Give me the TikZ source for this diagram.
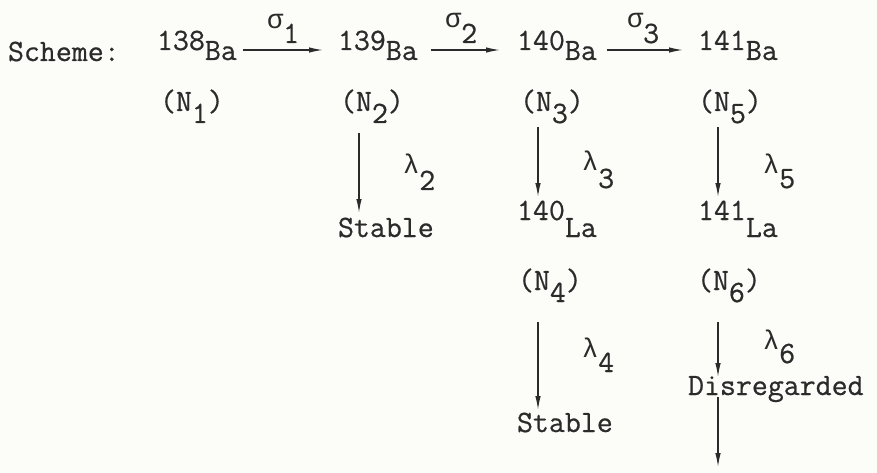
\documentclass[tikz,border=0pt]{standalone}
\usepackage{fontspec}
\newfontfamily\grk{Liberation Mono}
\newfontfamily\twf[FakeBold=0.6]{Latin Modern Mono}
\usetikzlibrary{arrows.meta}
\definecolor{ink}{HTML}{2B2B2B}
\definecolor{paper}{HTML}{FCFCF8}
\newcommand{\tw}{\twf\fontsize{31}{36}\selectfont}
\newcommand{\lo}[2]{\raisebox{-#1pt}{#2}}
\newcommand{\gk}[1]{{\grk\fontsize{27}{30}\selectfont #1}}
\begin{document}
\begin{tikzpicture}[x=1pt,y=-1pt,
  lbl/.style={anchor=base west, inner sep=0pt, outer sep=0pt, text=ink, font=\tw},
  arr/.style={draw=ink, line width=1.3pt, -{Latex[length=14pt,width=5.5pt]}},
]
\fill[paper] (0,0) rectangle (877,473);
\useasboundingbox (0,0) rectangle (877,473);

% top row
\node[lbl] (scheme) at (8,61) {Scheme:};
\node[lbl] (ba138) at (157,50) {138\lo{10}{Ba}};
\node[lbl] (ba139) at (338,50) {139\lo{10}{Ba}};
\node[lbl] (ba140) at (517,50) {140\lo{10}{Ba}};
\node[lbl] (ba141) at (698,50) {141\lo{10}{Ba}};

\node[lbl] (s1) at (267,29) {\gk{σ}\lo{14}{1}};
\node[lbl] (s2) at (445,28) {\gk{σ}\lo{15}{2}};
\node[lbl] (s3) at (627,28) {\gk{σ}\lo{15}{3}};

\draw[arr] ([xshift=6pt]ba138.base east) -- ([xshift=-15pt]ba139.base west);
\draw[arr] ([xshift=13pt]ba139.base east) -- ([xshift=-17pt]ba140.base west);
\draw[arr] ([xshift=10pt]ba140.base east) -- ([xshift=-15pt]ba141.base west);

% N row
\node[lbl] (n1) at (160,111) {(N\lo{12}{1})};
\node[lbl] (n2) at (340,111) {(N\lo{12}{2})};
\node[lbl] (n3) at (520,111) {(N\lo{12}{3})};
\node[lbl] (n5) at (698,111) {(N\lo{12}{5})};

% decay products
\node[lbl] (st2) at (338,237) {Stable};
\node[lbl] (la140) at (517,220) {140\lo{17}{La}};
\node[lbl] (la141) at (698,220) {141\lo{17}{La}};
\node[lbl] (n4) at (518,290) {(N\lo{12}{4})};
\node[lbl] (n6) at (697,290) {(N\lo{12}{6})};
\node[lbl] (st4) at (517,432) {Stable};
\node[lbl] (dis) at (688,395) {Disregarded};
\coordinate (end6) at (718,467);

% lambda labels
\node[lbl] (l2) at (403,174) {\gk{λ}\lo{16}{2}};
\node[lbl] (l3) at (582,171) {\gk{λ}\lo{17}{3}};
\node[lbl] (l5) at (763,173) {\gk{λ}\lo{15}{5}};
\node[lbl] (l4) at (582,357) {\gk{λ}\lo{15}{4}};
\node[lbl] (l6) at (763,349) {\gk{λ}\lo{14}{6}};

% vertical arrows
\draw[arr] ([shift={(19,22)}]n2.base west) -- ([shift={(21,-24)}]st2.base west);
\draw[arr] ([shift={(18,16)}]n3.base west) -- ([shift={(21,-23)}]la140.base west);
\draw[arr] ([shift={(20,16)}]n5.base west) -- ([shift={(20,-23)}]la141.base west);
\draw[arr] ([shift={(20,32)}]n4.base west) -- ([shift={(21,-22)}]st4.base west);
\draw[arr] ([shift={(21,32)}]n6.base west) -- ([shift={(30,-18)}]dis.base west);
\draw[arr] ([shift={(30,2)}]dis.base west) -- (end6);
\end{tikzpicture}
\end{document}
